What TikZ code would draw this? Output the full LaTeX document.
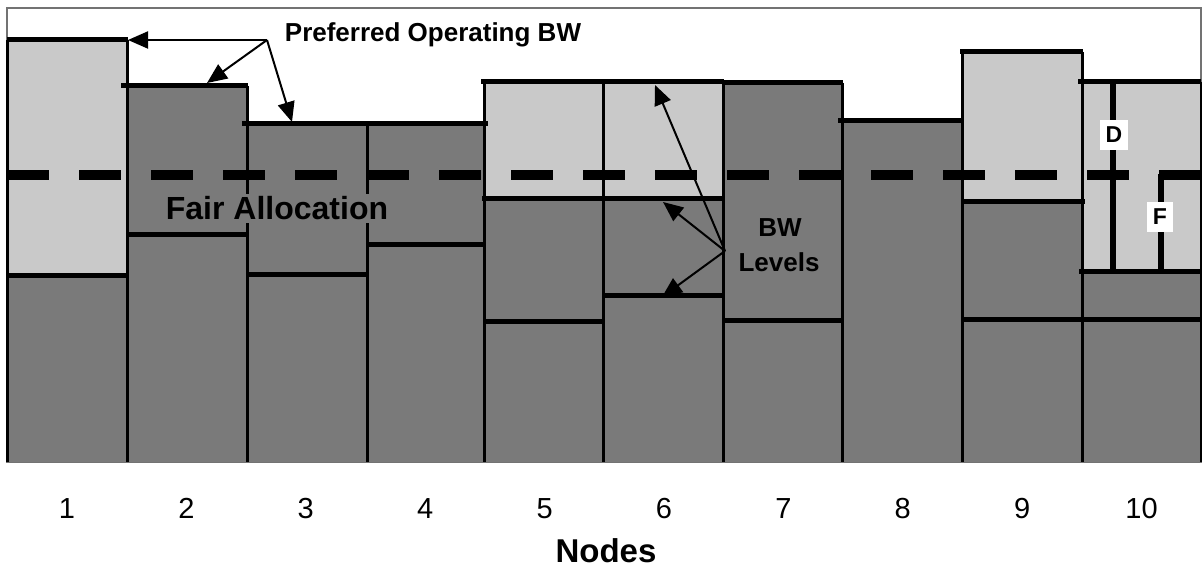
\documentclass[tikz,border=0pt]{standalone}
\usepackage{fontspec}
\setmainfont{Liberation Sans}
\usetikzlibrary{arrows.meta}
\definecolor{barDark}{gray}{0.48}
\definecolor{barLight}{gray}{0.79}
\definecolor{frameGray}{gray}{0.45}
\begin{document}
\begin{tikzpicture}[x=1pt,y=-1pt,
  baredge/.style={draw=black, line width=3pt},
  topline/.style={line width=5pt},
  levelline/.style={line width=5pt},
  fairline/.style={line width=10pt, dash pattern=on 42pt off 30pt},
  markline/.style={line width=5.5pt},
  pointer/.style={line width=2pt, -{Triangle[length=20pt,width=17pt]}},
  boldlbl/.style={font=\bfseries\fontsize{26}{30}\selectfont, inner sep=0pt, anchor=base},
  numlbl/.style={font=\fontsize{29}{32}\selectfont, inner sep=0pt, anchor=base},
  whitetag/.style={fill=white, inner sep=0pt, font=\bfseries\fontsize{23}{26}\selectfont}]
\useasboundingbox (0,0) rectangle (1202,569);
% frame
\draw[frameGray, line width=1.2pt] (7,8) rectangle (1201,462);
% bars: left/right/top
\foreach \l/\r/\t in {7/127/40, 127/247/86, 247/367/124, 367/484/124, 484/603/82,
                      603/723/82, 723/842/83, 842/962/121, 962/1082/52, 1082/1201/82}
  \fill[barDark] (\l,462) rectangle (\r,\t);
% light (above fair share) parts
\fill[barLight] (7,40) rectangle (127,276);
\fill[barLight] (484,82) rectangle (603,199);
\fill[barLight] (603,82) rectangle (723,199);
\fill[barLight] (962,52) rectangle (1082,202);
\fill[barLight] (1082,82) rectangle (1201,272);
% bar outlines
\foreach \l/\r/\t in {7/127/40, 127/247/86, 247/367/124, 367/484/124, 484/603/82,
                      603/723/82, 723/842/83, 842/962/121, 962/1082/52, 1082/1201/82}
  \draw[baredge] (\l,\t) -- (\l,462) (\r,\t) -- (\r,462);
% preferred operating BW (top lines)
\foreach \l/\r/\t in {7/128/40, 121/248/86, 242/368/124, 367/488/124, 481/604/82,
                      603/724/82, 723/843/83, 838/963/121, 960/1083/52, 1078/1201/82}
  \draw[topline] (\l,\t) -- (\r,\t);
% BW levels
\draw[levelline] (7,276) -- (127,276);
\draw[levelline] (127,235) -- (247,235);
\draw[levelline] (247,275) -- (367,275);
\draw[levelline] (367,245) -- (486,245);
\draw[levelline] (482,199) -- (723,199);
\draw[levelline] (484,322) -- (603,322);
\draw[levelline] (603,296) -- (723,296);
\draw[levelline] (723,321) -- (844,321);
\draw[levelline] (962,202) -- (1085,202);
\draw[levelline] (962,320) -- (1201,320);
\draw[levelline] (1079,272) -- (1201,272);
% fair allocation (dashed)
\draw[fairline] (7,175) -- (1201,175);
% D and F markers
\draw[markline] (1113,82) -- (1113,272);
\draw[markline] (1161,174) -- (1161,272);
\node[whitetag, minimum width=28pt, minimum height=30pt] (dtag) at (1114,135) {D};
\node[whitetag, minimum width=26pt, minimum height=30pt] (ftag) at (1160,217) {F};
% labels
\node[boldlbl, fill=barDark, inner sep=3pt, font=\bfseries\fontsize{32}{34}\selectfont] (fair) at (277,220) {Fair Allocation};
\node[boldlbl] (pref) at (433,42) {Preferred Operating BW};
\node[boldlbl] (bw) at (780,237) {BW};
\node[boldlbl] (levels) at (779,272) {Levels};
% pointers
\coordinate (prefsrc) at (267,40);
\coordinate (pref1) at (128,40);
\coordinate (pref2) at (207,83);
\coordinate (pref3) at (292,122);
\draw[pointer] (prefsrc) -- (pref1);
\draw[pointer] (prefsrc) -- (pref2);
\draw[pointer] (prefsrc) -- (pref3);
\coordinate (bwsrc) at (725,251);
\coordinate (bw1) at (655,85);
\coordinate (bw2) at (663,202);
\coordinate (bw3) at (662,297);
\draw[pointer] (bwsrc) -- (bw1);
\draw[pointer] (bwsrc) -- (bw2);
\draw[pointer] (bwsrc) -- (bw3);
% axis numbers
\foreach \i in {1,...,10}
  \node[numlbl] (n\i) at ({67+119.4*(\i-1)},518) {\i};
\node[boldlbl, font=\bfseries\fontsize{33}{36}\selectfont] (nodes) at (606,562) {Nodes};
\end{tikzpicture}
\end{document}
